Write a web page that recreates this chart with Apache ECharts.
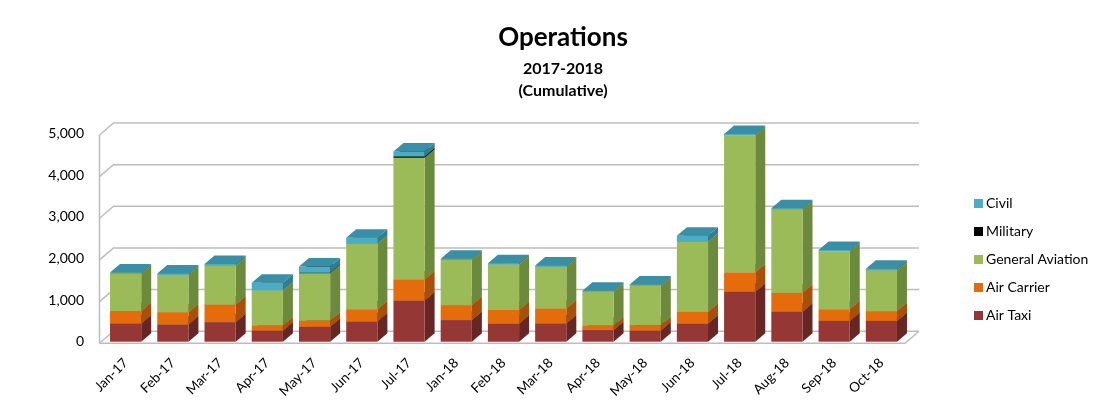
<!DOCTYPE html>
<html>
<head>
<meta charset="utf-8">
<script src="https://cdn.jsdelivr.net/npm/echarts@6/dist/echarts.min.js"></script>
<style>
  html, body { margin: 0; padding: 0; background: #fff; }
  #chart { width: 1096px; height: 413px; }
</style>
</head>
<body>
<div id="chart"></div>
<script>
var months = ['Jan-17', 'Feb-17', 'Mar-17', 'Apr-17', 'May-17', 'Jun-17', 'Jul-17', 'Jan-18', 'Feb-18',
  'Mar-18', 'Apr-18', 'May-18', 'Jun-18', 'Jul-18', 'Aug-18', 'Sep-18', 'Oct-18']
var airTaxi = [440, 415, 470, 270, 360, 490, 990, 520, 440, 440, 280, 270, 440, 1200, 720, 500, 500]
var airCarrier = [300, 295, 425, 120, 150, 290, 505, 360, 320, 360, 110, 130, 280, 465, 455, 280, 235]
var generalAviation = [890, 895, 930, 840, 1135, 1570, 2925, 1080, 1095, 1000, 810, 945, 1680, 3295, 2000, 1395, 975]
var military = [0, 0, 0, 0, 10, 0, 30, 0, 0, 0, 0, 0, 0, 0, 0, 0, 0]
var civil = [30, 30, 40, 185, 150, 145, 120, 30, 30, 30, 25, 30, 145, 30, 30, 30, 40]
var yTicks = [0, 1000, 2000, 3000, 4000, 5000]

var FONT = 'Lato, "Open Sans", sans-serif'
// bar depth and wall depth (pixels)
var DX = 10, DY = 8.5
var WX = 14, WY = 12

// [name, values, front, side, top]
var layers = [
  ['Air Taxi', airTaxi, '#953735', '#672524', '#7a2c2b'],
  ['Air Carrier', airCarrier, '#e46c0a', '#a85008', '#c45c08'],
  ['General Aviation', generalAviation, '#9bbb59', '#6c8a3c', '#84a249'],
  ['Military', military, '#000000', '#000000', '#111111'],
  ['Civil', civil, '#4bacc6', '#2f7f94', '#3a8ea6']
]

function boxRender(front, side, top) {
  return function (params, api) {
    var i = api.value(0), b = api.value(1), t = api.value(2)
    if (t - b <= 0) return
    var p0 = api.coord([i, b])
    var p1 = api.coord([i, t])
    var w = api.size([1, 0])[0] * 0.66
    var xl = p0[0] - w / 2, xr = p0[0] + w / 2
    var yb = p0[1], yt = p1[1]
    return {
      type: 'group',
      children: [
        { type: 'polygon', shape: { points: [[xr, yb], [xr, yt], [xr + DX, yt - DY], [xr + DX, yb - DY]] }, style: { fill: side } },
        { type: 'rect', shape: { x: xl, y: yt, width: w, height: yb - yt }, style: { fill: front } },
        { type: 'polygon', shape: { points: [[xl, yt], [xr, yt], [xr + DX, yt - DY], [xl + DX, yt - DY]] }, style: { fill: top } }
      ]
    }
  }
}

// back wall, left wall slants and floor
function frameRender(params, api) {
  var v = api.value(0)
  var cs = params.coordSys
  var y = api.coord([0, v])[1] + 1.5
  var xf = cs.x - 2.5
  var xr = cs.x + cs.width
  var st = { stroke: '#bdbdbd', lineWidth: 1.5, fill: null }
  var kids = [
    { type: 'polyline', shape: { points: [[xf, y], [xf + WX, y - WY], [xr + WX, y - WY]] }, style: st }
  ]
  if (v === 0) {
    kids.push({ type: 'polyline', shape: { points: [[xf, y], [xr, y], [xr + WX, y - WY]] }, style: st })
    kids.push({ type: 'line', shape: { x1: xf, y1: y, x2: xf, y2: api.coord([0, 5000])[1] + 1.5 }, style: st })
  }
  return { type: 'group', children: kids }
}

var series = [{
  name: 'frame',
  type: 'custom',
  renderItem: frameRender,
  data: yTicks.map(function (v) { return [v] }),
  encode: { y: 0 },
  silent: true,
  z: 1
}]

var base = months.map(function () { return 0 })
layers.forEach(function (l) {
  var data = l[1].map(function (v, i) {
    var d = [i, base[i], base[i] + v]
    base[i] += v
    return d
  })
  series.push({
    name: l[0],
    type: 'custom',
    renderItem: boxRender(l[2], l[3], l[4]),
    itemStyle: { color: l[2] },
    data: data,
    encode: { x: 0, y: [1, 2] },
    z: 2
  })
})

var chart = echarts.init(document.getElementById('chart'))
chart.setOption({
  animation: false,
  title: [
    { text: 'Operations', left: 558, top: 20, textAlign: 'center',
      textStyle: { fontFamily: FONT, fontSize: 26, fontWeight: 'bold', color: '#000' } },
    { text: '2017-2018', left: 558, top: 56, textAlign: 'center',
      textStyle: { fontFamily: FONT, fontSize: 16, fontWeight: 'bold', color: '#000' } },
    { text: '(Cumulative)', left: 558, top: 78, textAlign: 'center',
      textStyle: { fontFamily: FONT, fontSize: 16, fontWeight: 'bold', color: '#000' } }
  ],
  legend: {
    orient: 'vertical',
    left: 969,
    top: 190,
    itemWidth: 9,
    itemHeight: 9,
    itemGap: 11,
    icon: 'rect',
    data: ['Civil', 'Military', 'General Aviation', 'Air Carrier', 'Air Taxi'],
    textStyle: { fontFamily: FONT, fontSize: 14, color: '#000', lineHeight: 17, padding: [0, 0, 0, -2] }
  },
  grid: { left: 102, right: 191, top: 133.5, bottom: 71.3 },
  xAxis: {
    type: 'category',
    data: months,
    axisLine: { show: false },
    axisTick: { show: false },
    axisLabel: { rotate: 45, margin: 19, fontFamily: FONT, fontSize: 13.5, color: '#000' }
  },
  yAxis: {
    type: 'value',
    min: 0,
    max: 5000,
    interval: 1000,
    splitLine: { show: false },
    axisLine: { show: false },
    axisLabel: {
      margin: 18,
      fontFamily: FONT,
      fontSize: 14,
      color: '#000',
      formatter: function (v) { return v.toLocaleString('en-US') }
    }
  },
  series: series
})
</script>
</body>
</html>
